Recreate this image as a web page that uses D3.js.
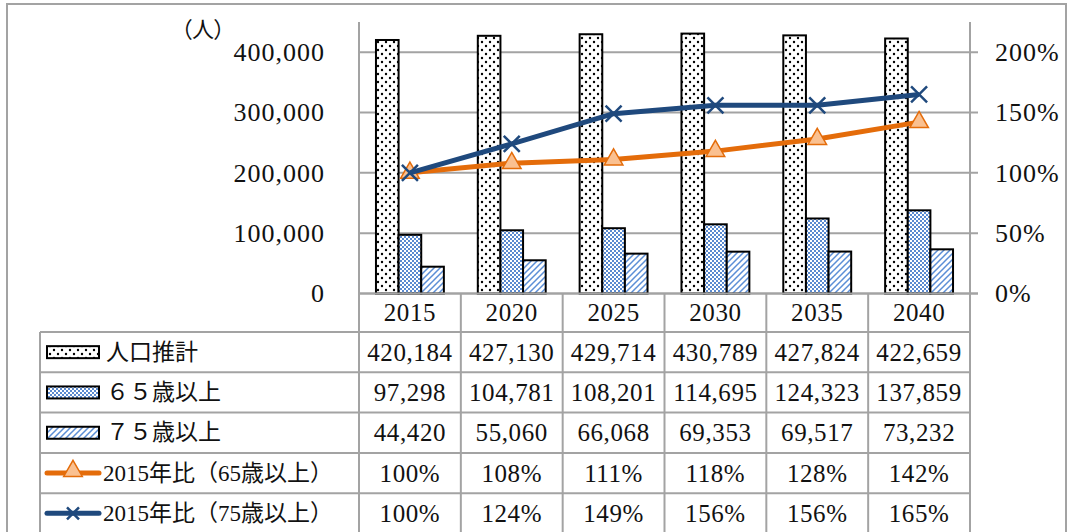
<!DOCTYPE html>
<html>
<head>
<meta charset="UTF-8">
<script src="https://d3js.org/d3.v7.min.js"></script>
<style>
  body { margin: 0; background: #fff; }
  svg text { font-family: "Liberation Serif", "Noto Sans CJK JP", serif; fill: #111; }
  .grid { stroke: #a3a3a3; stroke-width: 2; }
  .rule { stroke: #a3a3a3; stroke-width: 2; }
</style>
</head>
<body>
<svg id="chart" width="1069" height="532"></svg>
<script>
// data
const years = ["2015", "2020", "2025", "2030", "2035", "2040"];
const popTotal = [420184, 427130, 429714, 430789, 427824, 422659];
const pop65 = [97298, 104781, 108201, 114695, 124323, 137859];
const pop75 = [44420, 55060, 66068, 69353, 69517, 73232];
const ratio65 = [1.00, 1.08, 1.11, 1.18, 1.28, 1.42];
const ratio75 = [1.00, 1.24, 1.49, 1.56, 1.56, 1.65];
const leftTicks = [0, 100000, 200000, 300000, 400000];
const rightTicks = [0, 0.5, 1, 1.5, 2];
const seriesNames = ["人口推計", "６５歳以上", "７５歳以上", "2015年比（65歳以上）", "2015年比（75歳以上）"];

// layout
const plotL = 359, plotR = 970, plotT = 22, plotB = 293.5;
const headB = 332, rowH = 40.3, legendL = 40;
const orange = "#e46c0a", orangeFill = "#fac090", navy = "#1f497d";

const svg = d3.select("#chart");

// patterns
const defs = svg.append("defs");
const pDots = defs.append("pattern").attr("id", "dots")
  .attr("patternUnits", "userSpaceOnUse").attr("width", 8).attr("height", 8);
pDots.append("rect").attr("width", 8).attr("height", 8).attr("fill", "#fff");
pDots.selectAll("circle").data([[2, 2], [6, 6]]).join("circle")
  .attr("cx", d => d[0]).attr("cy", d => d[1]).attr("r", 1.2).attr("fill", "#000");

const pCheck = defs.append("pattern").attr("id", "check")
  .attr("patternUnits", "userSpaceOnUse").attr("width", 4).attr("height", 4);
pCheck.append("rect").attr("width", 4).attr("height", 4).attr("fill", "#fff");
pCheck.selectAll("rect.c").data([[0, 0], [2, 2]]).join("rect").attr("class", "c")
  .attr("x", d => d[0]).attr("y", d => d[1]).attr("width", 2).attr("height", 2).attr("fill", "#5a8ad0");

const pDiag = defs.append("pattern").attr("id", "diag")
  .attr("patternUnits", "userSpaceOnUse").attr("width", 6).attr("height", 6);
pDiag.append("rect").attr("width", 6).attr("height", 6).attr("fill", "#fff");
pDiag.append("path").attr("d", "M0,6 L6,0 M-1,1 L1,-1 M5,7 L7,5")
  .attr("stroke", "#5b8ed6").attr("stroke-width", 1.5);

const fills = ["url(#dots)", "url(#check)", "url(#diag)"];

// scales
const x = d3.scaleBand().domain(years).range([plotL, plotR]);
const bw = x.bandwidth();
const gw = bw * 2 / 3;
const xs = d3.scaleBand().domain([0, 1, 2]).range([0, gw]);
const y = d3.scaleLinear().domain([0, 450000]).range([plotB, plotT]);
const yR = d3.scaleLinear().domain([0, 2.25]).range([plotB, plotT]);

// outer frame
svg.append("rect").attr("x", 7).attr("y", 4).attr("width", 1059).attr("height", 560)
  .attr("fill", "none").attr("stroke", "#a3a3a3").attr("stroke-width", 2);

// gridlines
svg.append("g").selectAll("line").data(leftTicks).join("line")
  .attr("class", "grid")
  .attr("x1", plotL).attr("x2", plotR + 8)
  .attr("y1", d => y(d)).attr("y2", d => y(d));

// bars
const barSeries = [popTotal, pop65, pop75];
barSeries.forEach((vals, si) => {
  svg.append("g").selectAll("rect").data(vals).join("rect")
    .attr("x", (d, i) => x(years[i]) + (bw - gw) / 2 + xs(si))
    .attr("width", xs.bandwidth())
    .attr("y", d => y(d))
    .attr("height", d => plotB - y(d))
    .attr("fill", fills[si])
    .attr("stroke", "#000").attr("stroke-width", 2);
});

// lines
const line = d3.line().x((d, i) => x(years[i]) + bw / 2).y(d => yR(d));
const tri = d3.symbol(d3.symbolTriangle).size(150);
const cross = "M-8,-8L8,8M-8,8L8,-8";

svg.append("path").datum(ratio65).attr("d", line)
  .attr("fill", "none").attr("stroke", orange).attr("stroke-width", 5).attr("stroke-linejoin", "round");
svg.append("g").selectAll("path").data(ratio65).join("path")
  .attr("transform", (d, i) => `translate(${x(years[i]) + bw / 2},${yR(d)})`)
  .attr("d", tri).attr("fill", orangeFill).attr("stroke", orange).attr("stroke-width", 1.5);

svg.append("path").datum(ratio75).attr("d", line)
  .attr("fill", "none").attr("stroke", navy).attr("stroke-width", 5).attr("stroke-linejoin", "round");
svg.append("g").selectAll("path").data(ratio75).join("path")
  .attr("transform", (d, i) => `translate(${x(years[i]) + bw / 2},${yR(d)})`)
  .attr("d", cross).attr("fill", "none").attr("stroke", navy).attr("stroke-width", 2.5);

// axes
const axL = svg.append("g").attr("transform", `translate(${plotL},0)`)
  .call(d3.axisLeft(y).tickValues(leftTicks).tickFormat(d3.format(",")).tickSize(0).tickPadding(34));
axL.select(".domain").remove();
axL.selectAll("text").attr("font-size", 26).attr("letter-spacing", 1)
  .style("font-family", "'Liberation Serif', serif");

const axR = svg.append("g").attr("transform", `translate(${plotR},0)`)
  .call(d3.axisRight(yR).tickValues(rightTicks).tickFormat(d3.format(".0%")).tickSize(0).tickPadding(25));
axR.select(".domain").remove();
axR.selectAll("text").attr("font-size", 26).attr("letter-spacing", 1)
  .style("font-family", "'Liberation Serif', serif");

svg.append("text").attr("x", 203).attr("y", 37).attr("text-anchor", "middle")
  .attr("font-size", 22).style("font-feature-settings", "'palt'").text("（人）");

// table rules
const colEdges = years.map(d => x(d)).concat([plotR]);
const tableBottom = headB + rowH * 5;
svg.append("line").attr("class", "rule").attr("x1", plotL).attr("x2", plotR + 8).attr("y1", plotB).attr("y2", plotB);
svg.append("g").selectAll("line").data(d3.range(6)).join("line").attr("class", "rule")
  .attr("x1", legendL).attr("x2", plotR)
  .attr("y1", i => headB + i * rowH).attr("y2", i => headB + i * rowH);
svg.append("g").selectAll("line").data(colEdges).join("line").attr("class", "rule")
  .attr("x1", d => d).attr("x2", d => d)
  .attr("y1", (d, i) => (i === 0 || i === 6) ? plotT : plotB).attr("y2", tableBottom + 10);
svg.append("line").attr("class", "rule").attr("x1", legendL).attr("x2", legendL).attr("y1", headB).attr("y2", tableBottom + 10);

// year header
svg.append("g").selectAll("text").data(years).join("text")
  .attr("x", d => x(d) + bw / 2).attr("y", (plotB + headB) / 2)
  .attr("text-anchor", "middle").attr("dominant-baseline", "central")
  .attr("font-size", 25).attr("letter-spacing", 0.6).text(d => d);

// table values
const fmtN = d3.format(","), fmtP = d3.format(".0%");
const rows = [popTotal.map(fmtN), pop65.map(fmtN), pop75.map(fmtN), ratio65.map(fmtP), ratio75.map(fmtP)];
rows.forEach((vals, r) => {
  svg.append("g").selectAll("text").data(vals).join("text")
    .attr("x", (d, i) => x(years[i]) + bw / 2).attr("y", headB + rowH * (r + 0.5))
    .attr("text-anchor", "middle").attr("dominant-baseline", "central")
    .attr("font-size", 25).attr("letter-spacing", 0.6).text(d => d);
});

// legend column
seriesNames.forEach((name, r) => {
  const cy = headB + rowH * (r + 0.5);
  if (r < 3) {
    svg.append("rect").attr("x", 47).attr("y", cy - 6).attr("width", 52).attr("height", 12)
      .attr("fill", fills[r]).attr("stroke", "#000").attr("stroke-width", 2);
  } else {
    const col = r === 3 ? orange : navy;
    svg.append("line").attr("x1", 47).attr("x2", 99).attr("y1", cy).attr("y2", cy)
      .attr("stroke", col).attr("stroke-width", 5).attr("stroke-linecap", "round");
    if (r === 3) {
      svg.append("path").attr("transform", `translate(73,${cy - 2})`).attr("d", tri)
        .attr("fill", orangeFill).attr("stroke", orange).attr("stroke-width", 1.5);
    } else {
      svg.append("path").attr("transform", `translate(73,${cy})`).attr("d", "M-6,-6L6,6M-6,6L6,-6")
        .attr("fill", "none").attr("stroke", navy).attr("stroke-width", 2.5);
    }
  }
  svg.append("text").attr("x", r < 3 ? 106 : 103).attr("y", cy)
    .attr("dominant-baseline", "central").attr("font-size", 23).text(name);
});
</script>
</body>
</html>
